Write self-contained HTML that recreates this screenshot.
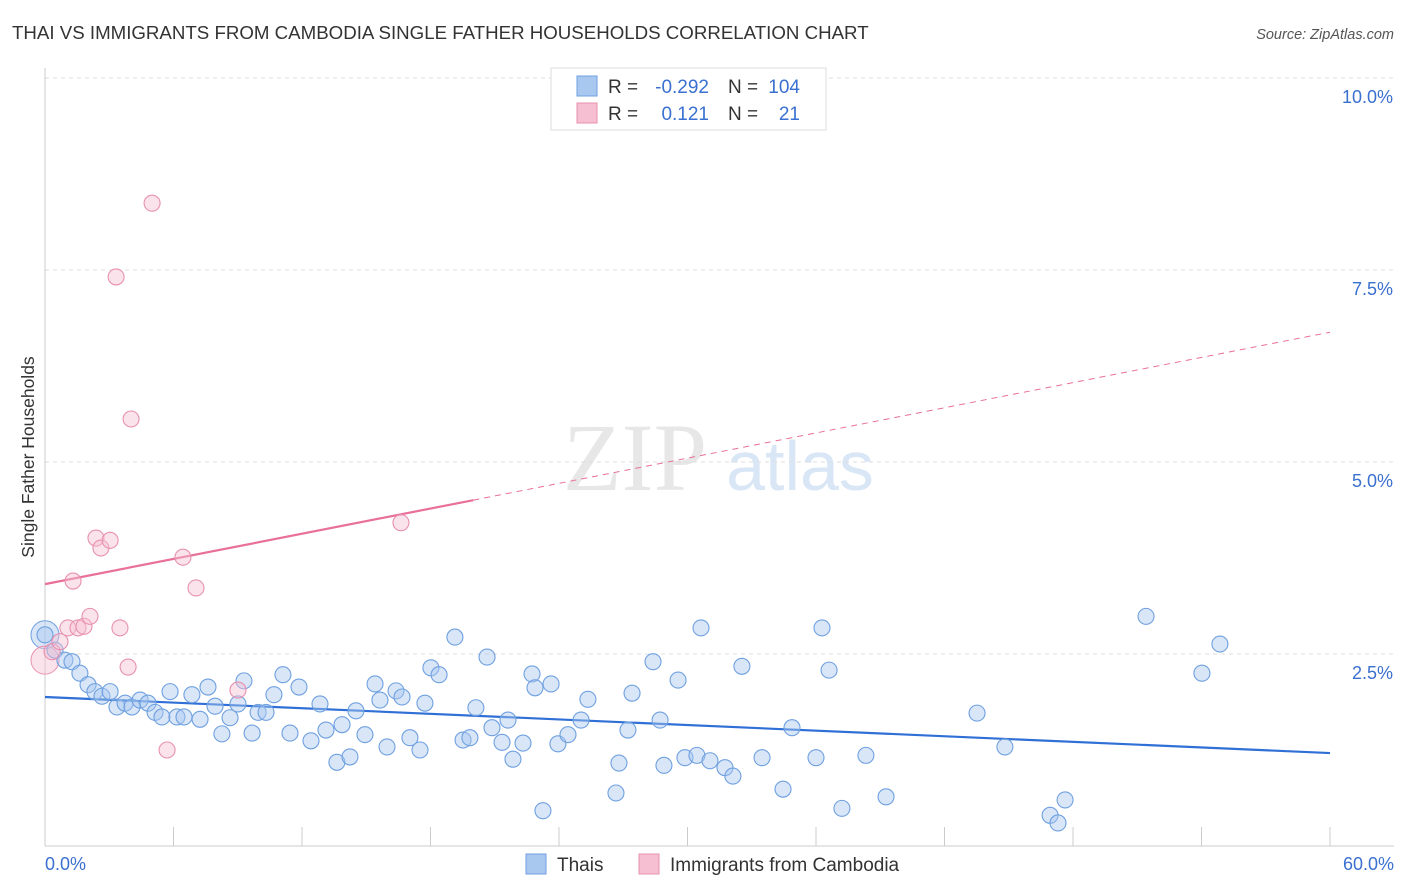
<!DOCTYPE html>
<html><head><meta charset="utf-8"><style>
body{margin:0;background:#fff;font-family:"Liberation Sans",sans-serif;}
svg{display:block}
</style></head><body>
<svg id="chart" width="1406" height="892" xmlns="http://www.w3.org/2000/svg">
<text x="12" y="39" font-size="18.7" fill="#333">THAI VS IMMIGRANTS FROM CAMBODIA SINGLE FATHER HOUSEHOLDS CORRELATION CHART</text>
<text x="1394" y="39" font-size="14.5" fill="#555" font-style="italic" text-anchor="end">Source: ZipAtlas.com</text>
<text transform="translate(34,457) rotate(-90)" font-size="17.5" fill="#333" text-anchor="middle">Single Father Households</text>
<g>
<text x="635" y="490" font-size="96" fill="#ddd" font-family="Liberation Serif" text-anchor="middle" opacity="0.7">ZIP</text>
<text x="800" y="490" font-size="70" fill="#cfe0f5" text-anchor="middle" opacity="0.8">atlas</text>
</g>
<g id="grid"></g><g id="axes"></g><g id="trend"></g><g id="points"></g>
<g font-size="19">
<rect x="551" y="68" width="275" height="62" fill="#fff" stroke="#ddd"/>
<rect x="577" y="76" width="20" height="20" fill="#a8c8f0" stroke="#6fa0e0"/>
<rect x="577" y="103" width="20" height="20" fill="#f7c0d2" stroke="#e890b0"/>
<text x="608" y="93" fill="#333">R =</text>
<text x="709" y="93" fill="#3a70d0" text-anchor="end">-0.292</text>
<text x="728" y="93" fill="#333">N =</text>
<text x="800" y="93" fill="#3a70d0" text-anchor="end">104</text>
<text x="608" y="120" fill="#333">R =</text>
<text x="709" y="120" fill="#3a70d0" text-anchor="end">0.121</text>
<text x="728" y="120" fill="#333">N =</text>
<text x="800" y="120" fill="#3a70d0" text-anchor="end">21</text>
</g>
<g>
<rect x="526" y="854" width="20" height="20" fill="#a8c8f0" stroke="#6fa0e0"/>
<text x="557" y="871" font-size="19" fill="#333">Thais</text>
<rect x="639" y="854" width="20" height="20" fill="#f7c0d2" stroke="#e890b0"/>
<text x="670" y="871" font-size="19" fill="#333">Immigrants from Cambodia</text>
</g>
</svg>
<script>
const yTicks=[2.5,5.0,7.5,10.0];
const yTickLabels=["2.5%","5.0%","7.5%","10.0%"];
const xTicks=[0,6,12,18,24,30,36,42,48,54,60];
const thaiPx=[[45,635],[55,650],[65,660],[72,662],[80,673],[88,685],[95,692],[102,696],[110,692],[117,707],[125,703],[132,707],[140,700],[148,703],[155,712],[162,717],[170,692],[177,717],[184,717],[192,695],[200,719],[208,687],[215,706],[222,734],[230,718],[238,704],[244,681],[252,733],[258,712],[266,712],[274,695],[283,675],[290,733],[299,687],[311,741],[320,704],[326,730],[342,725],[337,762],[350,757],[356,711],[365,735],[375,684],[380,700],[387,747],[396,691],[402,697],[410,738],[420,750],[425,703],[431,668],[439,675],[455,637],[463,740],[470,738],[476,708],[487,657],[492,728],[502,742],[508,720],[513,759],[523,743],[532,674],[535,688],[543,811],[551,684],[558,744],[568,735],[581,720],[588,699],[616,793],[619,763],[628,730],[632,693],[653,662],[660,720],[664,765],[678,680],[685,758],[697,755],[701,628],[710,761],[725,768],[733,776],[742,666],[762,758],[783,789],[792,728],[816,758],[822,628],[829,670],[842,808],[866,755],[886,797],[977,713],[1005,747],[1050,815],[1058,823],[1065,800],[1146,616],[1202,673],[1220,644]];
const cambPx=[[52,652],[60,642],[68,628],[73,581],[78,628],[84,626],[90,616],[96,538],[101,548],[110,540],[116,277],[120,628],[128,667],[131,419],[152,203],[167,750],[183,557],[196,588],[238,690],[401,523]];
const thaiX=thaiPx.map(p=>+((p[0]-45)/1285*60).toFixed(2));
const thaiY=thaiPx.map(p=>+((846-p[1])/76.8).toFixed(2));
const cambX=cambPx.map(p=>+((p[0]-45)/1285*60).toFixed(2));
const cambY=cambPx.map(p=>+((846-p[1])/76.8).toFixed(2));
const thaiTrend=[1.94,1.21];
const cambTrend=[3.41,6.69];
const sx=v=>45+v/60*1285, sy=v=>846-v*76.8;
const NS="http://www.w3.org/2000/svg";
function mk(tag,attrs,parent){const e=document.createElementNS(NS,tag);for(const k in attrs)e.setAttribute(k,attrs[k]);parent.appendChild(e);return e;}
const grid=document.getElementById('grid'),axes=document.getElementById('axes'),tr=document.getElementById('trend'),pts=document.getElementById('points');
yTicks.forEach((t,i)=>{
 const l=mk('line',{x1:45,x2:1394,y1:sy(t),y2:sy(t),stroke:'#ddd','stroke-dasharray':'4,4'},grid);
 
 
 const tx=mk('text',{x:1393,y:sy(t)+25,'font-size':18,fill:'#3a70d0','text-anchor':'end'},grid);
 tx.textContent=yTickLabels[i];
 
 
});
const ax=mk('line',{x1:45,x2:45,y1:68,y2:846,stroke:'#ccc'},axes);


const bx=mk('line',{x1:45,x2:1394,y1:846,y2:846,stroke:'#ccc'},axes);


xTicks.forEach(t=>{const l=mk('line',{x1:sx(t),x2:sx(t),y1:827,y2:846,stroke:'#ccc'},axes);
 
 });
const xl0=mk('text',{x:45,y:870,'font-size':18,fill:'#3a70d0'},axes);xl0.textContent='0.0%';


const xl1=mk('text',{x:1394,y:870,'font-size':18,fill:'#3a70d0','text-anchor':'end'},axes);xl1.textContent='60.0%';


function addPts(xs,ys,fill,stroke,name){xs.forEach((x,i)=>{const c=mk('circle',{cx:sx(x),cy:sy(ys[i]),r:8,fill:fill,'fill-opacity':0.45,stroke:stroke,'stroke-width':1.1},pts);
 
 });}
const big1=mk('circle',{cx:sx(0),cy:sy(2.75),r:14,fill:'#a8c8f0','fill-opacity':0.45,stroke:'#6fa0e0'},pts);


const big2=mk('circle',{cx:sx(0),cy:sy(2.42),r:14,fill:'#f7c0d2','fill-opacity':0.45,stroke:'#e890b0'},pts);


addPts(thaiX,thaiY,'#a8c8f0','#6fa0e0','thai-point');
addPts(cambX,cambY,'#f7c0d2','#e890b0','cambodia-point');
const t1=mk('line',{x1:sx(0),y1:sy(thaiTrend[0]),x2:sx(60),y2:sy(thaiTrend[1]),stroke:'#2f6fd6','stroke-width':2.2},tr);


const cm=20,cy=cambTrend[0]+(cambTrend[1]-cambTrend[0])*cm/60;
const t2=mk('line',{x1:sx(0),y1:sy(cambTrend[0]),x2:sx(cm),y2:sy(cy),stroke:'#e8709a','stroke-width':2.2},tr);


const t3=mk('line',{x1:sx(cm),y1:sy(cy),x2:sx(60),y2:sy(cambTrend[1]),stroke:'#e8709a','stroke-width':1,'stroke-dasharray':'6,5'},tr);


</script>
</body></html>
